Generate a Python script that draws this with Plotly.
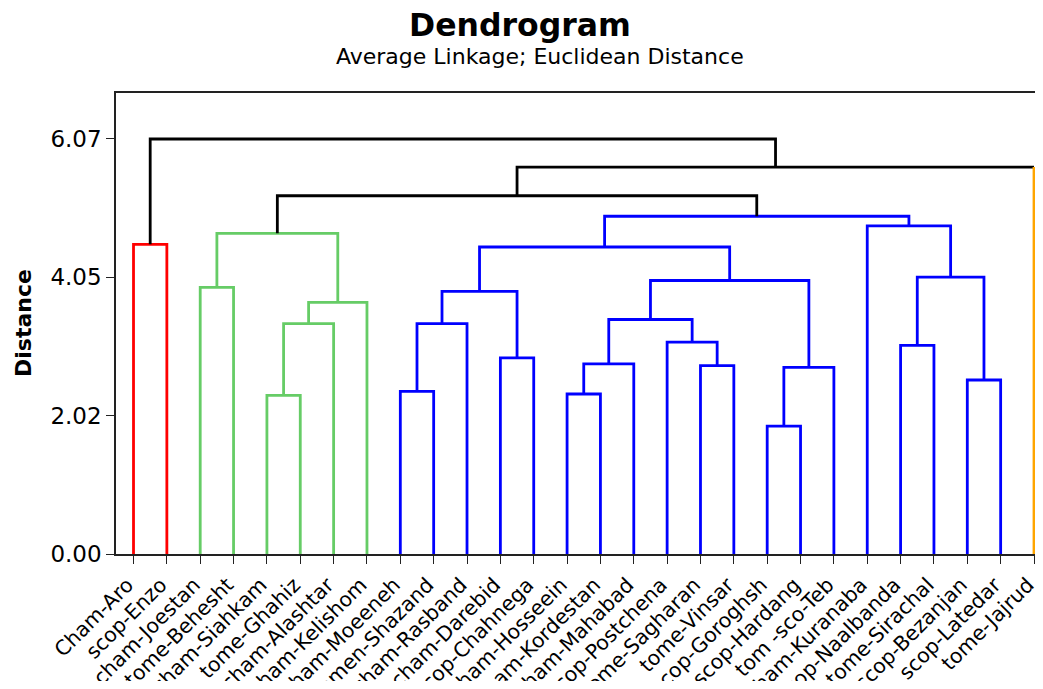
import plotly.graph_objects as go

# ---------------- data ----------------
leaf_labels = [
    "Cham-Aro", "scop-Enzo", "cham-Joestan", "tome-Behesht", "cham-Siahkam",
    "tome-Ghahiz", "cham-Alashtar", "cham-Kelishom", "cham-Moeeneh", "tomen-Shazand",
    "cham-Rasband", "cham-Darebid", "scop-Chahnega", "cham-Hosseein", "cham-Kordestan",
    "cham-Mahabad", "scop-Postchena", "tome-Sagharan", "tome-Vinsar", "scop-Goroghsh",
    "scop-Hardang", "tom -sco-Teb", "cham-Kuranaba", "scop-Naalbanda", "tome-Sirachal",
    "scop-Bezanjan", "scop-Latedar", "tome-Jajrud",
]
leaf_cluster = [1, 1, 2, 2, 2, 2, 2, 2,
                3, 3, 3, 3, 3, 3, 3, 3, 3, 3, 3, 3, 3, 3, 3, 3, 3, 3, 3,
                4]

# linkage: child ids (leaves 0..27, merges 28..) and merge distance
merge_a = [19, 4, 13, 8, 25, 28, 17, 30, 11, 23, 16, 31, 29, 35, 40, 39, 2, 41, 37, 43, 0, 44, 22, 47, 49, 52, 48]
merge_b = [20, 5, 14, 9, 26, 21, 18, 15, 12, 24, 34, 10, 6, 38, 7, 36, 3, 33, 32, 45, 1, 42, 46, 50, 51, 27, 53]
merge_h = [1.87, 2.32, 2.34, 2.38, 2.545, 2.73, 2.755, 2.78, 2.87, 3.05, 3.10, 3.37, 3.37,
           3.43, 3.68, 3.84, 3.90, 4.00, 4.05, 4.49, 4.53, 4.69, 4.80, 4.94, 5.24, 5.66, 6.07]

y_tick_values = [0.0, 2.0233, 4.0467, 6.07]
y_tick_labels = ["0.00", "2.02", "4.05", "6.07"]

title_text = "Dendrogram"
subtitle_text = "Average Linkage; Euclidean Distance"
y_title = "Distance"

# ---------------- style ----------------
cluster_colors = {1: "#FF0000", 2: "#66CC66", 3: "#0000FF", 4: "#FFA500"}
link_black = "#000000"
FONT = "DejaVu Sans"
LW = 2.8

# ---------------- build tree geometry ----------------
n = len(leaf_labels)
pos = {i: (float(i), 0.0) for i in range(n)}
members = {i: {i} for i in range(n)}
segs = {}  # color -> list of polylines


def add(color, pts):
    segs.setdefault(color, []).append(pts)


for k, (a, b, h) in enumerate(zip(merge_a, merge_b, merge_h)):
    nid = n + k
    (xa, ya), (xb, yb) = pos[a], pos[b]
    if xa > xb:
        a, b = b, a
        (xa, ya), (xb, yb) = (xb, yb), (xa, ya)
    mem = members[a] | members[b]
    cl = {leaf_cluster[m] for m in mem}
    if len(cl) == 1:
        add(cluster_colors[cl.pop()], [(xa, ya), (xa, h), (xb, h), (xb, yb)])
    else:
        pts = []
        if a < n:
            add(cluster_colors[leaf_cluster[a]], [(xa, ya), (xa, h)])
        else:
            pts.append((xa, ya))
        pts += [(xa, h), (xb, h)]
        if b < n:
            add(cluster_colors[leaf_cluster[b]], [(xb, yb), (xb, h)])
        else:
            pts.append((xb, yb))
        add(link_black, pts)
    pos[nid] = ((xa + xb) / 2.0, h)
    members[nid] = mem

fig = go.Figure()
for color, lines in segs.items():
    xs, ys = [], []
    for pl in lines:
        for (x, y) in pl:
            xs.append(x)
            ys.append(y)
        xs.append(None)
        ys.append(None)
    fig.add_trace(go.Scatter(x=xs, y=ys, mode="lines",
                             line=dict(color=color, width=LW),
                             hoverinfo="skip", showlegend=False))

# page body has an 8px default margin; size the figure to fit the window
OFF = 8
W, H = 1043 - 2 * OFF, 689 - 2 * OFF
L, R, T, B = 108, 0, 85, 127
pw = W - L - R
ph = H - T - B


def px(xs):  # screen x -> paper
    return (xs - OFF - L) / pw


def py(ys):  # screen y -> paper
    return (OFF + T + ph - ys) / ph


fig.update_layout(
    width=W, height=H,
    margin=dict(l=L, r=R, t=T, b=B, autoexpand=False),
    paper_bgcolor="white", plot_bgcolor="white",
    font=dict(family=FONT, color="black"),
    showlegend=False,
)
fig.update_xaxes(
    range=[-0.525, 27.03],
    tickmode="array", tickvals=list(range(n)), ticktext=leaf_labels,
    tickangle=-45, tickfont=dict(size=20.5, family=FONT, color="black"),
    ticklabeloverflow="allow", ticklabelshift=-6, ticklabelstandoff=1,
    ticks="outside", ticklen=8, tickwidth=1.3, tickcolor="#222",
    showline=True, linecolor="#222", linewidth=1.5, mirror=True,
    showgrid=False, zeroline=False, automargin=False,
)
fig.update_yaxes(
    range=[0, ph / 68.37],
    tickmode="array", tickvals=y_tick_values, ticktext=y_tick_labels,
    tickfont=dict(size=23, family=FONT, color="black"),
    ticks="outside", ticklen=8, tickwidth=1.3, tickcolor="#222",
    showline=True, linecolor="#222", linewidth=1.5,
    showgrid=False, zeroline=False, automargin=False,
)

fig.add_annotation(text="<b>" + title_text + "</b>", xref="paper", yref="paper",
                   x=px(520), y=py(25), xanchor="center", yanchor="middle", showarrow=False,
                   font=dict(size=31.5, family=FONT, color="black"))
fig.add_annotation(text=subtitle_text, xref="paper", yref="paper",
                   x=px(540), y=py(56), xanchor="center", yanchor="middle", showarrow=False,
                   font=dict(size=22, family=FONT, color="black"))
fig.add_annotation(text="<b>" + y_title + "</b>", xref="paper", yref="paper",
                   x=px(23), y=py(323), xanchor="center", yanchor="middle", showarrow=False,
                   textangle=-90, font=dict(size=22, family=FONT, color="black"))

fig.write_html("out.html")
